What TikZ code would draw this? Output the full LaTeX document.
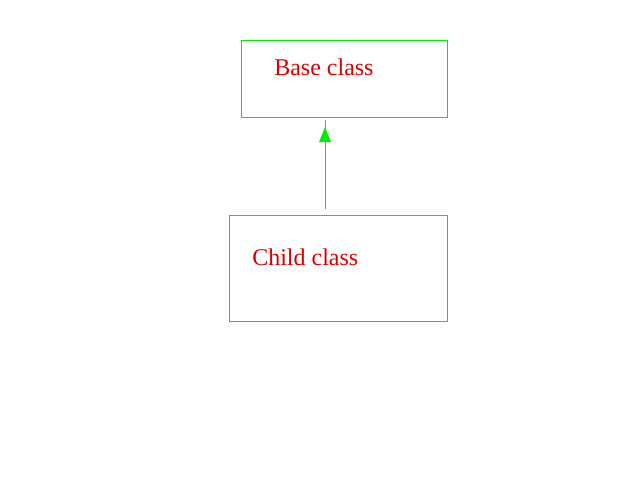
\documentclass[tikz,border=0pt]{standalone}
\usepackage{fontspec}
\setmainfont{Liberation Serif}
\definecolor{lgreen}{RGB}{0,235,0}
\definecolor{lred}{RGB}{215,0,0}
\begin{document}
\begin{tikzpicture}[x=0.75pt,y=-0.75pt,
  classbox/.style={draw=lgreen,line width=0.75pt,inner sep=0pt,outer sep=0pt},
  label/.style={text=lred,font=\fontsize{18}{21}\selectfont,anchor=base west,inner sep=0pt},
  link/.style={draw=lgreen,line width=0.75pt}]
\useasboundingbox (0,0) rectangle (640,480);
\draw[classbox] (241,40) rectangle (447,117);
\node[label] (basetext) at (274,75) {Base class};
\draw[classbox] (229,215) rectangle (447,321);
\node[label] (childtext) at (252,265) {Child class};
\coordinate (from) at (325,209);
\coordinate (to) at (325,120);
\coordinate (tip) at (325,127);
\draw[link] (from) -- (to);
\fill[lgreen] (tip) -- ++(-6,15) -- ++(12,0) -- cycle;
\end{tikzpicture}
\end{document}
